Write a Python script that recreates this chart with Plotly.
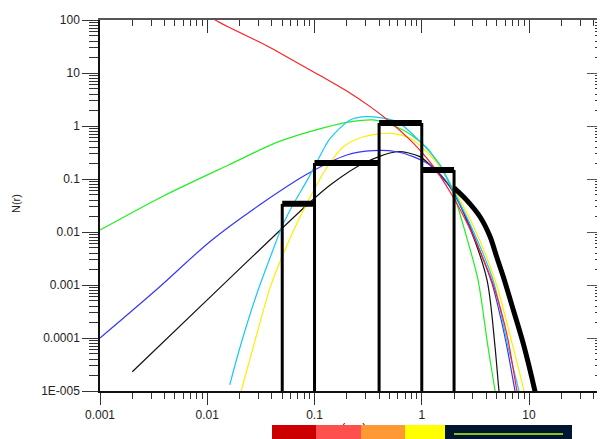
import numpy as np
import plotly.graph_objects as go

# ---------------- data ----------------
red_r = [0.0105, 0.0119, 0.0373, 0.1, 0.126, 0.2, 0.33, 0.485, 0.778, 0.96, 1.2, 1.5, 1.9, 2.5, 3.3, 4.5, 5.5, 6.37, 7.71, 8.2]
red_n = [125, 100, 31.4, 10.2, 7.9, 4.57, 2.32, 1.28, 0.547, 0.35, 0.206, 0.11, 0.051, 0.0186, 0.0056, 0.0012, 3.2e-4, 9.3e-5, 1e-5, 5e-6]

green_r = [0.001, 0.00379, 0.0158, 0.0463, 0.126, 0.215, 0.352, 0.67, 1.12, 1.58, 1.9, 2.72, 3.35, 4.14, 4.82, 5.1]
green_n = [0.0109, 0.0464, 0.184, 0.506, 0.944, 1.2, 1.30, 0.84, 0.385, 0.136, 0.0667, 0.0061, 1.24e-3, 6.85e-5, 1e-5, 4e-6]

blue_r = [0.001, 0.0035, 0.0107, 0.0324, 0.0879, 0.2, 0.352, 0.585, 0.83, 1.19, 1.65, 2.5, 3.3, 4.5, 5.5, 6.3, 7.4, 7.9]
blue_n = [1e-4, 8.8e-4, 0.0067, 0.0348, 0.128, 0.284, 0.342, 0.327, 0.264, 0.184, 0.096, 0.022, 0.0058, 0.0011, 2.2e-4, 6e-5, 1e-5, 5e-6]

black_r = [0.002, 0.0123, 0.048, 0.085, 0.14, 0.286, 0.585, 0.96, 1.38, 1.9, 2.7, 4.06, 4.82, 5.25, 5.5]
black_n = [2.31e-5, 7.85e-4, 0.0109, 0.0323, 0.077, 0.198, 0.327, 0.264, 0.137, 0.065, 0.0146, 1.24e-3, 6.85e-5, 1e-5, 5e-6]

cyan_r = [0.0162, 0.0203, 0.0291, 0.0388, 0.0497, 0.0637, 0.0879, 0.126, 0.14, 0.215, 0.308, 0.585, 0.964, 1.48, 1.9, 2.8, 4.62, 6.37, 8.05, 8.6]
cyan_n = [1.3e-5, 6.9e-5, 7.0e-4, 3.4e-3, 0.0126, 0.034, 0.105, 0.42, 0.586, 1.30, 1.50, 1.21, 0.506, 0.184, 0.07, 0.0146, 1.24e-3, 6.85e-5, 1e-5, 5e-6]

yellow_r = [0.0207, 0.0291, 0.0388, 0.0514, 0.0686, 0.085, 0.126, 0.186, 0.286, 0.507, 0.778, 1.11, 1.48, 1.9, 2.94, 4.82, 7.08, 8.96, 9.5]
yellow_n = [1e-5, 1.22e-4, 9.3e-4, 3.96e-3, 0.0146, 0.0348, 0.148, 0.407, 0.628, 0.728, 0.586, 0.327, 0.171, 0.075, 0.0146, 1.24e-3, 6.85e-5, 1e-5, 5e-6]

thick_r = [2.0, 2.62, 3.49, 4.33, 4.99, 5.75, 7.13, 8.83, 11.35, 12.2]
thick_n = [0.068, 0.040, 0.0194, 0.0082, 0.0034, 0.00144, 3.4e-4, 7.9e-5, 1e-5, 5e-6]

bin_edges = [0.05, 0.1, 0.4, 1.0, 2.0]
bin_heights = [0.034, 0.2, 1.14, 0.148]

x_tickvals = [0.001, 0.01, 0.1, 1, 10]
x_ticktext = ["0.001", "0.01", "0.1", "1", "10"]
y_tickvals = [1e-5, 1e-4, 1e-3, 1e-2, 0.1, 1, 10, 100]
y_ticktext = ["1E-005", "0.0001", "0.001", "0.01", "0.1", "1", "10", "100"]

legend_colors = ["#cc0000", "#ff5050", "#ff9933", "#ffff00"]

# ---------------- figure ----------------
fig = go.Figure()

curves = [
    (black_r, black_n, "#111111"),
    (blue_r, blue_n, "#3535ff"),
    (green_r, green_n, "#22ee22"),
    (yellow_r, yellow_n, "#ffee00"),
    (cyan_r, cyan_n, "#18c8f8"),
    (red_r, red_n, "#ff2020"),
]
for r, n, c in curves:
    fig.add_trace(go.Scatter(x=r, y=n, mode="lines",
                             line=dict(color=c, width=1.2, shape="spline", smoothing=0.8),
                             showlegend=False, hoverinfo="skip"))

# histogram: thick tops
tx, ty = [], []
for i, h in enumerate(bin_heights):
    tx += [bin_edges[i], bin_edges[i + 1], None]
    ty += [h, h, None]
fig.add_trace(go.Scatter(x=tx, y=ty, mode="lines", line=dict(color="black", width=6),
                         showlegend=False, hoverinfo="skip"))
# histogram: vertical sides
vx, vy = [], []
floor = 1e-6
for i, e in enumerate(bin_edges):
    left = bin_heights[i - 1] if i > 0 else 0
    right = bin_heights[i] if i < len(bin_heights) else 0
    vx += [e, e, None]
    vy += [floor, max(left, right), None]
fig.add_trace(go.Scatter(x=vx, y=vy, mode="lines", line=dict(color="black", width=3),
                         showlegend=False, hoverinfo="skip"))

fig.add_trace(go.Scatter(x=thick_r, y=thick_n, mode="lines",
                         line=dict(color="black", width=5, shape="spline", smoothing=0.8),
                         showlegend=False, hoverinfo="skip"))

# dummy trace for mirrored (top/right) axes
fig.add_trace(go.Scatter(x=[None], y=[None], xaxis="x2", yaxis="y2",
                         showlegend=False, hoverinfo="skip"))

xr = [-3, np.log10(50)]
yr = [-5, 2]
tickfont = dict(family="Liberation Sans, Arial, sans-serif", size=12, color="#222222")

# page body has an 8px margin, so the figure is made 8px smaller and margins shifted
OFF = 8
fig.update_layout(
    width=605 - OFF, height=439 - OFF,
    margin=dict(l=100 - OFF, r=1, t=20 - OFF, b=48),
    paper_bgcolor="white", plot_bgcolor="white",
    showlegend=False,
    xaxis=dict(type="log", range=xr, showgrid=False, zeroline=False,
               showline=True, linecolor="#111", linewidth=1.5,
               ticks="outside", ticklen=12, tickwidth=1, tickcolor="#333",
               tickmode="array", tickvals=x_tickvals, ticktext=x_ticktext,
               tickfont=tickfont,
               minor=dict(ticks="outside", ticklen=6, tickcolor="#333", dtick="D1", showgrid=False)),
    yaxis=dict(type="log", range=yr, showgrid=False, zeroline=False,
               showline=True, linecolor="#111", linewidth=1.5,
               ticks="outside", ticklen=16, tickwidth=1, tickcolor="#333",
               tickmode="array", tickvals=y_tickvals, ticktext=y_ticktext,
               tickfont=tickfont,
               minor=dict(ticks="outside", ticklen=9, tickcolor="#333", dtick="D1", showgrid=False)),
    xaxis2=dict(type="log", range=xr, overlaying="x", side="top", anchor="y2",
                showgrid=False, zeroline=False, showline=True, linecolor="#555", linewidth=1.5,
                ticks="inside", ticklen=13, tickcolor="#333",
                tickmode="array", tickvals=x_tickvals, showticklabels=False,
                minor=dict(ticks="inside", ticklen=6, tickcolor="#333", dtick="D1", showgrid=False)),
    yaxis2=dict(type="log", range=yr, overlaying="y", side="right", anchor="x2",
                showgrid=False, zeroline=False, showline=True, linecolor="#333", linewidth=1.5,
                ticks="inside", ticklen=17, tickcolor="#555",
                tickmode="array", tickvals=y_tickvals, showticklabels=False,
                minor=dict(ticks="inside", ticklen=9, tickcolor="#333", dtick="D1", showgrid=False)),
)

def px_x(p):
    return (p - 100) / 504.0

def px_y(p):
    return (391 - p) / 371.0

annotations = [
    dict(text="N(r)", x=px_x(16), y=px_y(204), xref="paper", yref="paper",
         xanchor="center", yanchor="middle",
         textangle=-90, showarrow=False, font=dict(family="Liberation Sans, Arial", size=11, color="#222")),
    dict(text="r (μm)", x=px_x(350), y=px_y(428), xref="paper", yref="paper",
         xanchor="center", yanchor="middle",
         showarrow=False, font=dict(family="Liberation Sans, Arial", size=12, color="#222")),
]
# colour strip at the bottom (drawn above the axis title)
seg_edges = [272, 316, 361, 405, 445]
for i, c in enumerate(legend_colors):
    x0, x1 = seg_edges[i], seg_edges[i + 1]
    annotations.append(dict(text=" ", x=px_x((x0 + x1) / 2), y=px_y(432), xref="paper", yref="paper",
                            xanchor="center", yanchor="middle",
                            showarrow=False, width=x1 - x0, height=14, bgcolor=c, borderpad=0,
                            borderwidth=0, font=dict(size=8)))
annotations.append(dict(text=" ", x=px_x((445 + 572) / 2), y=px_y(432), xref="paper", yref="paper",
                        xanchor="center", yanchor="middle",
                        showarrow=False, width=127, height=14, bgcolor="#00172f", borderpad=0,
                        borderwidth=0, font=dict(size=8)))
annotations.append(dict(text=" ", x=px_x((454 + 563) / 2), y=px_y(434), xref="paper", yref="paper",
                        xanchor="center", yanchor="middle",
                        showarrow=False, width=109, height=2, bgcolor="#8cbf1e", borderpad=0,
                        borderwidth=0, font=dict(size=1)))
fig.update_layout(annotations=annotations)

fig.write_html("out.html")
